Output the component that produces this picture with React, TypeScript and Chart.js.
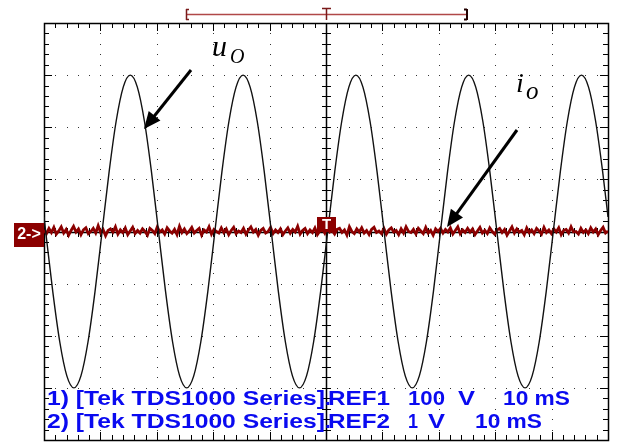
import React, { useEffect, useRef } from "react";
import { Chart, registerables } from "chart.js";

Chart.register(...registerables);

// Time base: 10 ms/div, 10 divisions
const X_MIN_MS = 0;
const X_MAX_MS = 100;
// CH REF1: 100 V/div, 8 divisions
const U_MIN_V = -400;
const U_MAX_V = 400;
// CH REF2: 1 V/div (values in centivolts), 8 divisions
const I_MIN_CV = -400;
const I_MAX_CV = 400;

// u_O samples (ms, V)
const U_TIME_MS = [
  0, 0.3, 1.55, 2.8, 4.05, 5.3, 6.55, 7.8, 9.05, 10.3, 11.55, 12.8, 14.05, 15.3, 16.55, 17.8, 19.05,
  20.3, 21.55, 22.8, 24.05, 25.3, 26.55, 27.8, 29.05, 30.3, 31.55, 32.8, 34.05, 35.3, 36.55, 37.8, 39.05,
  40.3, 41.55, 42.8, 44.05, 45.3, 46.55, 47.8, 49.05, 50.3, 51.55, 52.8, 54.05, 55.3, 56.55, 57.8, 59.05,
  60.3, 61.55, 62.8, 64.05, 65.3, 66.55, 67.8, 69.05, 70.3, 71.55, 72.8, 74.05, 75.3, 76.55, 77.8, 79.05,
  80.3, 81.55, 82.8, 84.05, 85.3, 86.55, 87.8, 89.05, 90.3, 91.55, 92.8, 94.05, 95.3, 96.55, 97.8, 99.05,
  100,
];
const U_VOLTS = [
  28, 0, -115, -212, -277, -300, -277, -212, -115, 0, 115, 212, 277, 300, 277, 212, 115,
  0, -115, -212, -277, -300, -277, -212, -115, 0, 115, 212, 277, 300, 277, 212, 115,
  0, -115, -212, -277, -300, -277, -212, -115, 0, 115, 212, 277, 300, 277, 212, 115,
  0, -115, -212, -277, -300, -277, -212, -115, 0, 115, 212, 277, 300, 277, 212, 115,
  0, -115, -212, -277, -300, -277, -212, -115, 0, 115, 212, 277, 300, 277, 212, 115,
  28,
];

// i_o trace (noisy, near zero), centivolts, evenly sampled across the record
const I_SAMPLE_MS = 100 / 229;
const I_CV = [
  3, -4, 6, -2, 8, -5, 1, 9, -3, 4, -7, 2, 10, -1, 5, -6, 3, 7, -4, 0,
  6, -3, 11, -2, 4, -8, 2, 5, -1, 9, -5, 3, -2, 7, -6, 1, 8, -4, 2, -3,
  5, 0, -7, 6, 2, -4, 9, -1, 3, -5, 7, 1, -3, 4, -6, 10, -2, 5, -4, 1,
  8, -3, 2, 6, -7, 3, -1, 9, -5, 4, 0, -3, 7, -2, 5, -6, 2, 8, -4, 1,
  -2, 6, -5, 3, 9, -1, 4, -7, 2, 6, -3, 0, 8, -4, 3, -2, 5, -6, 1, 7,
  -3, 4, -1, 10, -5, 2, 6, -4, 3, -2, 7, -6, 1, 5, -3, 8, -1, 2, -5, 4,
  6, -2, 3, -7, 9, 0, -4, 5, -1, 7, -3, 2, -6, 4, 8, -2, 1, -4, 6, -5,
  3, 7, -1, 2, -6, 5, -3, 9, 0, -2, 4, -5, 6, 1, -4, 8, -3, 2, -7, 5,
  0, 6, -3, 4, -1, 7, -5, 2, 9, -4, 3, -2, 6, -1, 5, -6, 1, 8, -3, 2,
  -4, 7, 0, -5, 3, 6, -2, 4, -7, 1, 9, -3, 5, -1, 2, -6, 7, -2, 3, -4,
  6, 1, -5, 8, -2, 3, -4, 5, -1, 7, -6, 2, 4, -3, 9, -1, 0, -5, 6, -2,
  3, -4, 7, -1, 5, -6, 2, 8, -3, 1,
];

const LINE1 = ["1) [Tek TDS1000 Series]", ".", "REF1", "100", "V", "10 mS"];
const LINE2 = ["2) [Tek TDS1000 Series]", ".", "REF2", "1", "V", "10 mS"];
const U_LABEL = ["u", "O"];
const I_LABEL = ["i", "o"];
const CH_MARK = "2->";
const TRIG_MARK = "T";

const TEXT_BLUE = "#0a0af0";
const TRACE_RED = "#8b0000";

function fitText(ctx: CanvasRenderingContext2D, text: string, x0: number, x1: number, y: number) {
  const w = ctx.measureText(text).width;
  ctx.save();
  ctx.translate(x0, y);
  if (x1 > x0 && w > 0) ctx.scale((x1 - x0) / w, 1);
  ctx.fillText(text, 0, 0);
  ctx.restore();
}

function arrow(ctx: CanvasRenderingContext2D, x0: number, y0: number, x1: number, y1: number) {
  const ang = Math.atan2(y1 - y0, x1 - x0);
  const hl = 17;
  const hw = 7.5;
  const bx = x1 - hl * Math.cos(ang);
  const by = y1 - hl * Math.sin(ang);
  ctx.lineWidth = 3;
  ctx.lineCap = "butt";
  ctx.beginPath();
  ctx.moveTo(x0, y0);
  ctx.lineTo(bx + 2 * Math.cos(ang), by + 2 * Math.sin(ang));
  ctx.stroke();
  ctx.beginPath();
  ctx.moveTo(x1, y1);
  ctx.lineTo(bx + hw * Math.sin(ang), by - hw * Math.cos(ang));
  ctx.lineTo(bx - hw * Math.sin(ang), by + hw * Math.cos(ang));
  ctx.closePath();
  ctx.fill();
}

const scopePlugin = {
  id: "scope",
  beforeDatasetsDraw(chart: any) {
    const { ctx } = chart;
    const xs = chart.scales.x;
    const ys = chart.scales.y;
    const L = xs.getPixelForValue(X_MIN_MS);
    const R = xs.getPixelForValue(X_MAX_MS);
    const T = ys.getPixelForValue(U_MAX_V);
    const B = ys.getPixelForValue(U_MIN_V);
    const cx = Math.round(xs.getPixelForValue(50));
    const cy = Math.round(ys.getPixelForValue(0));
    ctx.save();
    // graticule dots
    ctx.fillStyle = "#333";
    for (let i = 1; i < 10; i++) {
      if (i === 5) continue;
      const x = Math.round(xs.getPixelForValue(i * 10));
      for (let k = 1; k < 40; k++) {
        const y = Math.round(ys.getPixelForValue(U_MAX_V - k * 20));
        ctx.fillRect(x, y, 1, 1);
      }
    }
    for (let j = 1; j < 8; j++) {
      if (j === 4) continue;
      const y = Math.round(ys.getPixelForValue(U_MAX_V - j * 100));
      for (let k = 1; k < 50; k++) {
        const x = Math.round(xs.getPixelForValue(k * 2));
        ctx.fillRect(x, y, 1, 1);
      }
    }
    // border
    ctx.strokeStyle = "#000";
    ctx.lineWidth = 1.5;
    ctx.strokeRect(Math.round(L) + 0.5, Math.round(T) + 0.5, Math.round(R - L), Math.round(B - T));
    // centre axes
    ctx.beginPath();
    ctx.moveTo(cx + 0.5, T);
    ctx.lineTo(cx + 0.5, B);
    ctx.moveTo(L, cy + 0.5);
    ctx.lineTo(R, cy + 0.5);
    ctx.stroke();
    // ticks
    ctx.lineWidth = 1;
    ctx.beginPath();
    for (let k = 1; k < 50; k++) {
      const x = Math.round(xs.getPixelForValue(k * 2)) + 0.5;
      const len = k % 5 === 0 ? 8 : 5;
      ctx.moveTo(x, T);
      ctx.lineTo(x, T + len);
      ctx.moveTo(x, B);
      ctx.lineTo(x, B - len);
      ctx.moveTo(x, cy - 4);
      ctx.lineTo(x, cy + 5);
    }
    for (let k = 1; k < 40; k++) {
      const y = Math.round(ys.getPixelForValue(U_MAX_V - k * 20)) + 0.5;
      const len = k % 5 === 0 ? 8 : 5;
      ctx.moveTo(L, y);
      ctx.lineTo(L + len, y);
      ctx.moveTo(R, y);
      ctx.lineTo(R - len, y);
      ctx.moveTo(cx - 4, y);
      ctx.lineTo(cx + 5, y);
    }
    ctx.stroke();
    ctx.restore();
  },
  afterDatasetsDraw(chart: any) {
    const { ctx } = chart;
    const xs = chart.scales.x;
    const y2 = chart.scales.y2;
    const cx = Math.round(xs.getPixelForValue(50));
    const cy = Math.round(y2.getPixelForValue(0));
    const L = Math.round(xs.getPixelForValue(X_MIN_MS));
    ctx.save();

    // trigger marker
    ctx.fillStyle = TRACE_RED;
    ctx.fillRect(cx - 9, cy - 15, 19, 15);
    ctx.fillStyle = "#fff";
    ctx.font = "bold 15px 'Liberation Sans', Arial, sans-serif";
    ctx.textAlign = "center";
    ctx.textBaseline = "middle";
    ctx.fillText(TRIG_MARK, cx + 0.5, cy - 7);

    // channel marker
    ctx.fillStyle = TRACE_RED;
    ctx.fillRect(L - 30, cy - 9, 30, 24);
    ctx.fillStyle = "#fff";
    ctx.font = "bold 16px 'Liberation Sans', Arial, sans-serif";
    ctx.fillText(CH_MARK, L - 15, cy + 3);

    // top bracket (horizontal position / record)
    ctx.strokeStyle = "#b04848";
    ctx.lineWidth = 1.5;
    ctx.beginPath();
    ctx.moveTo(186, 14.5);
    ctx.lineTo(467, 14.5);
    ctx.stroke();
    ctx.strokeStyle = "#7a1a1a";
    ctx.lineWidth = 1.5;
    ctx.beginPath();
    ctx.moveTo(186.5, 9);
    ctx.lineTo(186.5, 20);
    ctx.moveTo(186, 9.5);
    ctx.lineTo(189, 9.5);
    ctx.moveTo(186, 19.5);
    ctx.lineTo(189, 19.5);
    ctx.moveTo(cx + 0.5, 8);
    ctx.lineTo(cx + 0.5, 20);
    ctx.moveTo(cx - 4, 8.5);
    ctx.lineTo(cx + 5, 8.5);
    ctx.stroke();
    ctx.strokeStyle = "#200";
    ctx.lineWidth = 2;
    ctx.beginPath();
    ctx.moveTo(467, 9);
    ctx.lineTo(467, 20);
    ctx.moveTo(464, 9.5);
    ctx.lineTo(467, 9.5);
    ctx.moveTo(464, 19.5);
    ctx.lineTo(467, 19.5);
    ctx.stroke();

    // annotations
    ctx.fillStyle = "#000";
    ctx.strokeStyle = "#000";
    ctx.textAlign = "left";
    ctx.textBaseline = "alphabetic";
    ctx.font = "italic 30px 'Liberation Serif', 'Times New Roman', serif";
    ctx.fillText(U_LABEL[0], 212, 56);
    ctx.font = "italic 20px 'Liberation Serif', 'Times New Roman', serif";
    ctx.fillText(U_LABEL[1], 230, 63);
    ctx.font = "italic 28px 'Liberation Serif', 'Times New Roman', serif";
    ctx.fillText(I_LABEL[0], 516, 92);
    ctx.font = "italic 25px 'Liberation Serif', 'Times New Roman', serif";
    ctx.fillText(I_LABEL[1], 526, 99);
    arrow(ctx, 191, 70, 144, 129);
    arrow(ctx, 517, 130, 447, 227);

    // bottom reference text
    ctx.fillStyle = TEXT_BLUE;
    ctx.font = "bold 20px 'Liberation Sans', Arial, sans-serif";
    const pos1 = [[47, 325], [325, 0], [328, 390], [408, 445], [458, 475], [503, 570]];
    const pos2 = [[47, 325], [325, 0], [328, 390], [408, 418], [428, 445], [475, 542]];
    LINE1.forEach((t, i) => fitText(ctx, t, pos1[i][0], pos1[i][1], 405));
    LINE2.forEach((t, i) => fitText(ctx, t, pos2[i][0], pos2[i][1], 428));
    ctx.restore();
  },
};

export default function App() {
  const ref = useRef<HTMLCanvasElement | null>(null);
  useEffect(() => {
    document.body.style.margin = "0";
    const canvas = ref.current;
    if (!canvas) return;
    const uData = U_TIME_MS.map((t, i) => ({ x: t, y: U_VOLTS[i] }));
    const iData = I_CV.map((v, i) => ({ x: i * I_SAMPLE_MS, y: v }));
    const chart = new Chart(canvas, {
      type: "line",
      data: {
        datasets: [
          {
            label: "u_O",
            data: uData,
            borderColor: "#111",
            borderWidth: 1.4,
            pointRadius: 0,
            cubicInterpolationMode: "monotone",
            xAxisID: "x",
            yAxisID: "y",
          },
          {
            label: "i_o",
            data: iData,
            borderColor: TRACE_RED,
            borderWidth: 2.8,
            pointRadius: 0,
            tension: 0,
            xAxisID: "x",
            yAxisID: "y2",
          },
        ],
      },
      options: {
        animation: false,
        responsive: false,
        maintainAspectRatio: false,
        devicePixelRatio: 1,
        layout: { padding: { left: 44, top: 23, right: 9, bottom: 3 } },
        plugins: { legend: { display: false }, tooltip: { enabled: false } },
        scales: {
          x: { type: "linear", min: X_MIN_MS, max: X_MAX_MS, display: false },
          y: { type: "linear", min: U_MIN_V, max: U_MAX_V, display: false },
          y2: { type: "linear", min: I_MIN_CV, max: I_MAX_CV, display: false },
        },
      },
      plugins: [scopePlugin],
    } as any);
    return () => chart.destroy();
  }, []);
  return (
    <div style={{ position: "absolute", left: 0, top: 0, width: 617, height: 443, background: "#fff" }}>
      <canvas ref={ref} width={617} height={443} style={{ display: "block", width: 617, height: 443 }} />
    </div>
  );
}
